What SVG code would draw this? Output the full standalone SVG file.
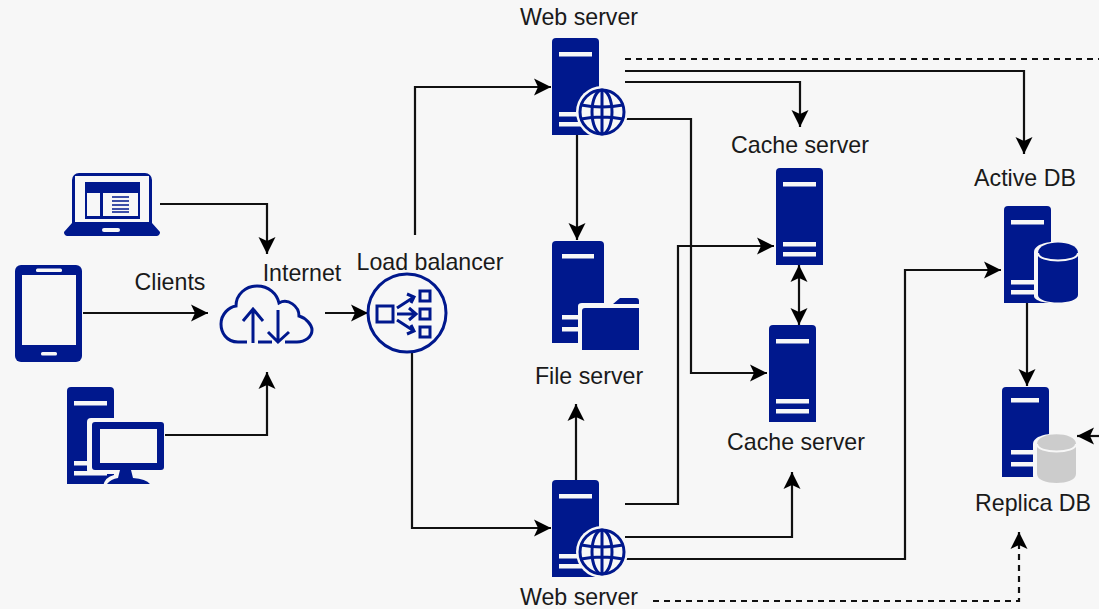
<svg xmlns="http://www.w3.org/2000/svg" width="1099" height="609" viewBox="0 0 1099 609">
<style>
text{font-family:"Liberation Sans",Arial,sans-serif;font-size:23.2px;fill:#1a1a1a;text-anchor:middle}
.n{fill:#00188d}
.b{fill:#f7f7f7}
.ln{fill:none;stroke:#00188d;stroke-width:3}
.c{fill:none;stroke:#111;stroke-width:2.2}
.d{stroke-dasharray:6 5}
</style>
<defs>
<marker id="a" markerUnits="userSpaceOnUse" markerWidth="20" markerHeight="20" viewBox="0 0 20 20" refX="18" refY="10" orient="auto-start-reverse"><path d="M1 1.500 L18 10 L1 18.500 L5 10Z" fill="#000"/></marker>
<g id="srv"><path class="n" d="M0 4a4 4 0 0 1 4-4H43a4 4 0 0 1 4 4V97H0Z"/><rect class="b" x="7" y="14" width="33" height="4.500"/><rect class="b" x="7" y="74" width="33" height="4.500"/><rect class="b" x="7" y="84" width="33" height="4.500"/></g>
<g id="globe"><circle class="b" r="26"/><circle class="ln" r="22"/><ellipse class="ln" rx="10" ry="22"/><path class="ln" d="M0-22V22M-21-7Q0-3 21-7M-21 7Q0 3 21 7"/></g>
</defs>
<rect width="1099" height="609" fill="#f7f7f7"/>
<g id="connectors">
<path class="c" marker-end="url(#a)" d="M160 204H267V254"/>
<path class="c" marker-end="url(#a)" d="M83 313H208"/>
<path class="c" marker-end="url(#a)" d="M163 435H267V372"/>
<path class="c" marker-end="url(#a)" d="M325 313H368"/>
<path class="c" marker-end="url(#a)" d="M415 235V87H551"/>
<path class="c" marker-end="url(#a)" d="M412 352V528H551"/>
<path class="c" marker-end="url(#a)" d="M577 135V240"/>
<path class="c" marker-end="url(#a)" d="M625 82H800V127"/>
<path class="c d" d="M625 59H1099"/>
<path class="c" marker-end="url(#a)" d="M625 71H1024V154"/>
<path class="c" marker-end="url(#a)" d="M625 119H691V373H767"/>
<path class="c" marker-start="url(#a)" marker-end="url(#a)" d="M799 265V325"/>
<path class="c" marker-end="url(#a)" d="M576 480V404"/>
<path class="c" marker-end="url(#a)" d="M625 504H678V246H774"/>
<path class="c" marker-end="url(#a)" d="M625 537H792V472"/>
<path class="c" marker-end="url(#a)" d="M625 559H905V270H1001"/>
<path class="c d" marker-end="url(#a)" d="M653 601H1019V532"/>
<path class="c" marker-end="url(#a)" d="M1099 436H1077"/>
<path class="c" marker-end="url(#a)" d="M1027 302V386"/>
</g>
<g id="laptop">
<path class="n" d="M72 180a7 7 0 0 1 7-7H145a7 7 0 0 1 7 7V223L160 232a4 4 0 0 1-3 4H67a4 4 0 0 1-3-4L72 223Z"/>
<rect class="b" x="75" y="176" width="74" height="46"/>
<rect class="n" x="85" y="182" width="55" height="37"/>
<rect class="b" x="87" y="193" width="13" height="23"/><rect class="b" x="103" y="193" width="35" height="23"/>
<path stroke="#00188d" stroke-width="1.600" d="M112 197H129M112 201H129M112 205H129M112 209H129M112 212H129"/>
<rect class="b" x="102" y="228" width="18" height="4" rx="2"/>
</g>
<g id="tablet">
<rect class="n" x="15" y="265" width="67" height="97" rx="6"/>
<rect class="b" x="22" y="275" width="54" height="70"/>
<rect class="b" x="36" y="268.500" width="26" height="3.500" rx="1.500"/>
<rect class="b" x="41" y="352" width="16" height="3.500" rx="1.500"/>
</g>
<g id="desktop">
<use href="#srv" x="67" y="387"/>
<rect class="b" x="87" y="418" width="78" height="56" rx="4"/>
<path class="b" d="M114 470H135L137 475Q152 477 154 486H103Q105 477 114 475Z"/>
<rect class="n" x="92" y="422" width="72" height="48" rx="3"/>
<rect class="b" x="100" y="429" width="57" height="34"/>
<path class="n" d="M120 470H131L133 478Q146 479 150 484H107Q111 479 118 478Z"/>
</g>
<g id="internet">
<path class="ln" d="M247 342H238C226 342 221 332 221 324C221 314 229 307 236 306C236 294 246 286 257 286C269 286 277 294 279 303C288 298 299 306 299 316C306 318 312 325 312 330C312 337 305 342 297 342H285M258 342H272"/>
<path class="ln" d="M253 343V311M243 321L253 309L263 321M278 341V310M268 332L278 342L289 332"/>
<text x="302" y="281">Internet</text>
</g>
<g id="load-balancer">
<circle class="ln" cx="407" cy="313" r="39"/>
<rect class="ln" x="377" y="306" width="16" height="16"/>
<rect class="ln" x="420" y="291" width="10" height="10"/><rect class="ln" x="420" y="309" width="10" height="10"/><rect class="ln" x="420" y="327" width="10" height="10"/>
<path class="ln" d="M397 308L414 297M407 294L414 297L411 303M397 314H415M409 308L416 314L409 320M397 320L414 331M407 334L414 331L411 325"/>
<text x="430" y="270">Load balancer</text>
</g>
<g id="web-server-1">
<use href="#srv" x="552" y="38"/><use href="#globe" x="602" y="112"/>
<text x="579" y="25">Web server</text>
</g>
<g id="web-server-2">
<use href="#srv" x="552" y="480"/><use href="#globe" x="602" y="552"/>
<text x="579" y="605">Web server</text>
</g>
<g id="file-server">
<path class="n" d="M552 245a4 4 0 0 1 4-4H600a4 4 0 0 1 4 4V343H552Z"/>
<rect class="b" x="562" y="254" width="32" height="4.500"/><rect class="b" x="562" y="315" width="32" height="4.500"/><rect class="b" x="562" y="327" width="32" height="4.500"/>
<path class="b" d="M578 353V306Q578 303 582 303H610L618 294H642V353H578Z"/>
<path class="n" d="M582 350V311Q582 308 585 308H639V350ZM613 304L620 298H636Q639 298 639 301V304Z"/>
<text x="589" y="384">File server</text>
</g>
<g id="cache-server-1">
<use href="#srv" x="776" y="168"/>
<text x="800" y="153">Cache server</text>
</g>
<g id="cache-server-2">
<use href="#srv" x="769" y="325"/>
<text x="796" y="450">Cache server</text>
</g>
<g id="active-db">
<use href="#srv" x="1004" y="206"/>
<path class="b" d="M1034 252C1034 238 1082 238 1082 252V296C1082 306 1034 306 1034 296Z"/>
<path class="n" d="M1038 253C1038 239 1078 239 1078 253V295C1078 305 1038 305 1038 295Z"/>
<path fill="none" stroke="#f7f7f7" stroke-width="2" d="M1038 253C1038 263 1078 263 1078 253"/>
<text x="1025" y="186">Active DB</text>
</g>
<g id="replica-db">
<path class="n" d="M1002 391a4 4 0 0 1 4-4H1045a4 4 0 0 1 4 4V477H1002Z"/>
<rect class="b" x="1011" y="398" width="28" height="4.500"/><rect class="b" x="1011" y="450" width="28" height="4.500"/><rect class="b" x="1011" y="462" width="28" height="4.500"/>
<path class="b" d="M1033 444C1033 430 1080 430 1080 444V476C1080 488 1033 488 1033 476Z"/>
<path fill="#cccccc" d="M1037 444C1037 431 1076 431 1076 444V474C1076 486 1037 486 1037 474Z"/>
<path fill="none" stroke="#f7f7f7" stroke-width="2" d="M1037 444C1037 454 1076 454 1076 444"/>
<text x="1033" y="511">Replica DB</text>
</g>
<text id="clients" x="170" y="290">Clients</text>
</svg>
